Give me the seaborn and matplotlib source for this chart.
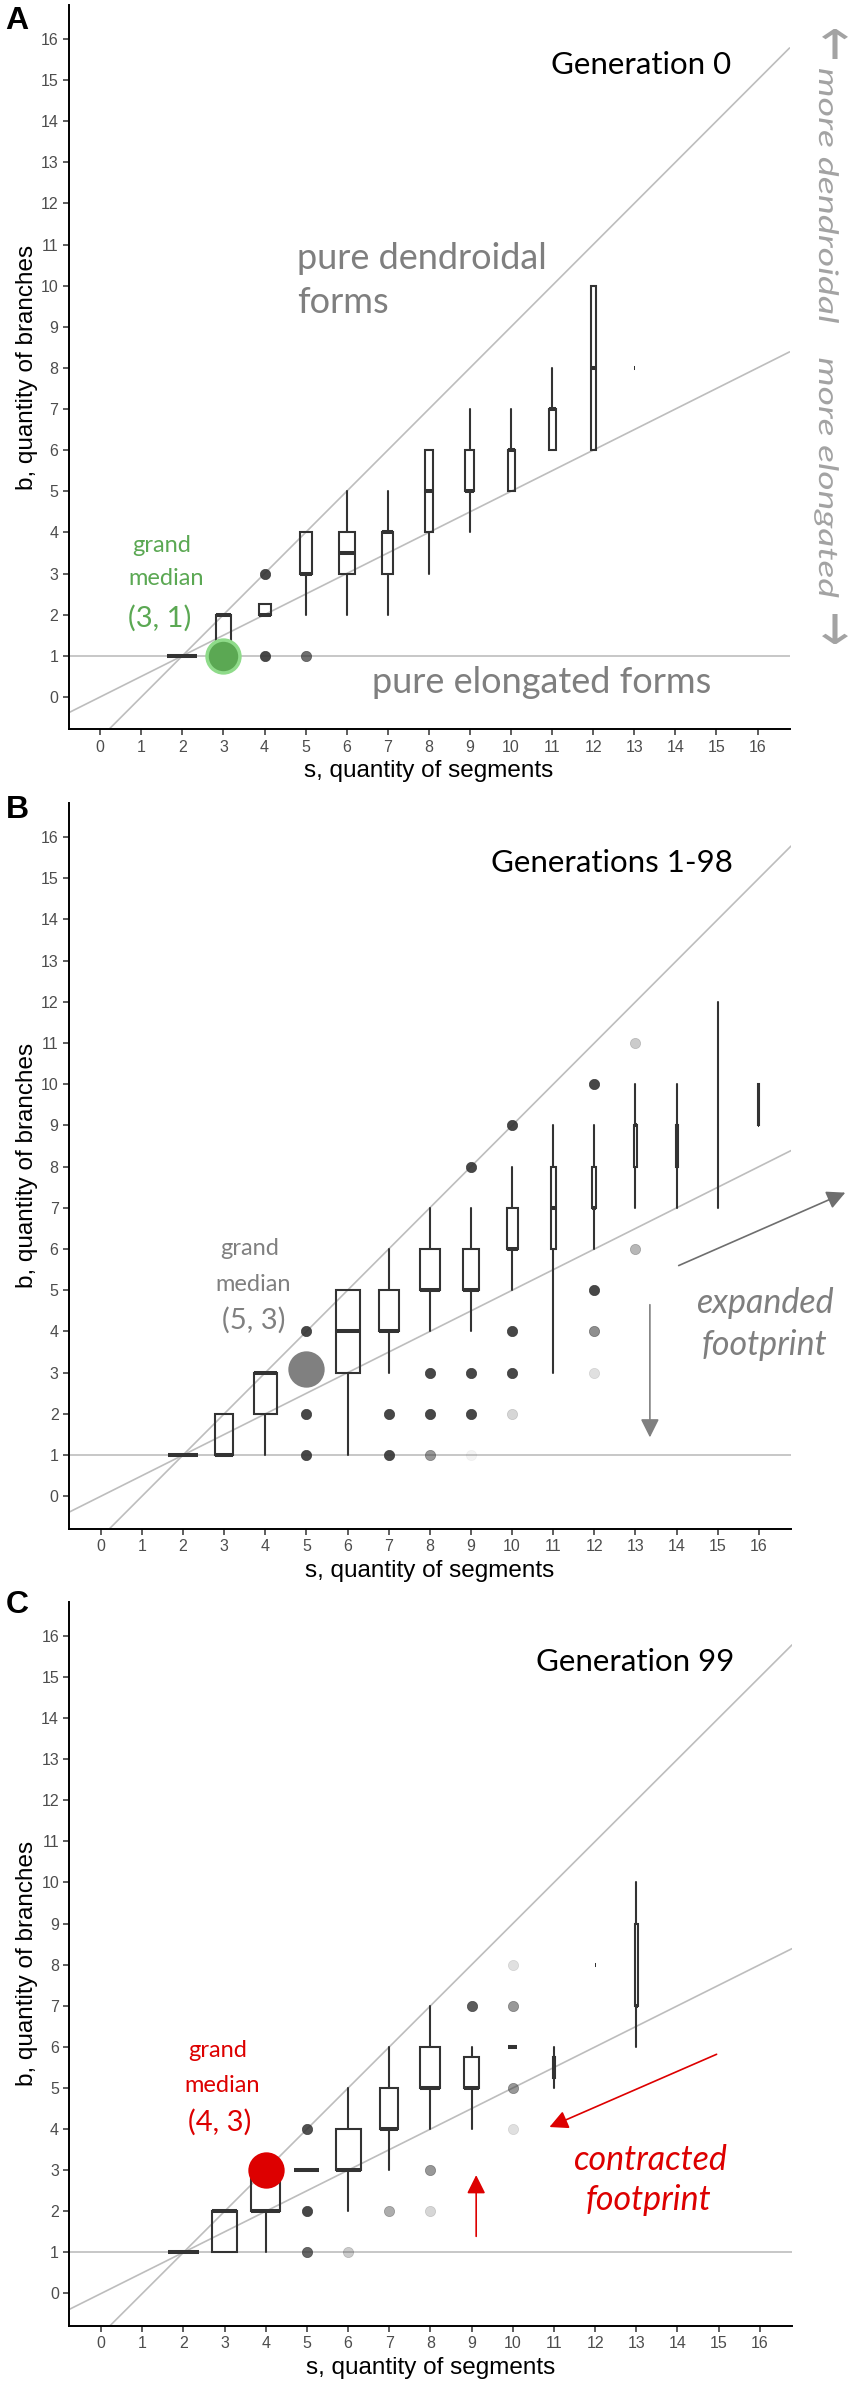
import numpy as np
import pandas as pd
import matplotlib
matplotlib.use("Agg")
import matplotlib.pyplot as plt
import seaborn as sns
from matplotlib.textpath import TextPath
from matplotlib.patches import PathPatch
from matplotlib.font_manager import FontProperties
from matplotlib.transforms import Affine2D

# ---- data ----
# panel A, generation 0: box stats per s
a_s = [2, 3, 4, 5, 6, 7, 8, 9, 10, 11, 12, 13]
a_lo = [1, 1, 2, 2, 2, 2, 3, 4, 5, 6, 6, 8]
a_q1 = [1, 1, 2, 3, 3, 3, 4, 5, 5, 6, 6, 8]
a_med = [1, 2, 2, 3, 3.5, 4, 5, 5, 6, 7, 8, 8]
a_q3 = [1, 2, 2.25, 4, 4, 4, 6, 6, 6, 7, 10, 8]
a_hi = [1, 2, 2.25, 4, 5, 5, 6, 7, 7, 8, 10, 8]
a_width = [30, 15, 12, 12, 16, 11, 8, 9, 7, 7, 5, 1]
a_out_s = [4, 4, 5]
a_out_b = [3, 1, 1]
a_out_alpha = [0.9, 0.9, 0.7]

# panel B, generations 1-98
b_s = [2, 3, 4, 6, 7, 8, 9, 10, 11, 12, 13, 14, 15, 16]
b_lo = [1, 1, 1, 1, 3, 4, 4, 5, 3, 6, 7, 7, 7, 9]
b_q1 = [1, 1, 2, 3, 4, 5, 5, 6, 6, 7, 8, 8, 9, 9]
b_med = [1, 1, 3, 4, 4, 5, 5, 6, 7, 7, 9, 9, 9, 9]
b_q3 = [1, 2, 3, 5, 5, 6, 6, 7, 8, 8, 9, 9, 9, 10]
b_hi = [1, 2, 3, 5, 6, 7, 7, 8, 9, 9, 10, 10, 12, 10]
b_width = [30, 18, 23, 24, 20, 20, 16, 11, 5, 4, 3, 2, 1, 1]
b_out_s = [5, 5, 5, 7, 7, 8, 8, 8, 9, 9, 9, 9, 10, 10, 10, 10, 12, 12, 12, 12, 13, 13]
b_out_b = [4, 2, 1, 2, 1, 3, 2, 1, 8, 3, 2, 1, 9, 4, 3, 2, 10, 5, 4, 3, 11, 6]
b_out_alpha = [0.9, 0.9, 0.9, 0.9, 0.9, 0.9, 0.9, 0.5, 0.9, 0.9, 0.9, 0.05,
               0.9, 0.9, 0.9, 0.2, 0.9, 0.9, 0.55, 0.15, 0.25, 0.35]

# panel C, generation 99
c_s = [2, 3, 4, 5, 6, 7, 8, 9, 10, 11, 12, 13]
c_lo = [1, 1, 1, 3, 2, 3, 4, 4, 6, 5, 8, 6]
c_q1 = [1, 1, 2, 3, 3, 4, 5, 5, 6, 5.25, 8, 7]
c_med = [1, 2, 2, 3, 3, 4, 5, 5, 6, 5.5, 8, 7]
c_q3 = [1, 2, 3, 3, 4, 5, 6, 5.75, 6, 5.75, 8, 9]
c_hi = [1, 2, 3, 3, 5, 6, 7, 6, 6, 6, 8, 10]
c_width = [31, 25, 29, 25, 25, 18, 20, 15, 9, 2.5, 1, 3]
c_out_s = [5, 5, 5, 6, 7, 8, 8, 9, 10, 10, 10, 10]
c_out_b = [4, 2, 1, 1, 2, 3, 2, 7, 8, 7, 5, 4]
c_out_alpha = [0.85, 0.9, 0.75, 0.25, 0.4, 0.5, 0.2, 0.8, 0.15, 0.5, 0.5, 0.15]

# grand medians (dot position, label)
gm_x = [3, 5, 4]
gm_y = [1, 3.1, 3]
gm_label = ["(3, 1)", "(5, 3)", "(4, 3)"]
gm_color = ["#5ba853", "#808080", "#dd0000"]
gm_edge = ["#8fdb8a", "#808080", "#dd0000"]

titles = ["Generation 0", "Generations 1-98", "Generation 99"]
letters = ["A", "B", "C"]
ticks = list(range(0, 17))

# reference lines b = slope*s + intercept
ref_slope = [1, 0.5, 0]
ref_icpt = [-1, 0, 1]

PX = 41.1  # pixels per data unit
H = 2390

sns.set_theme(style="ticks")
plt.rcParams["font.family"] = ["Liberation Sans", "DejaVu Sans"]
ANN = ["Lato", "DejaVu Sans"]

fig = plt.figure(figsize=(8.52, 23.9), dpi=100)
rects = [[0.0805, 0.6948, 0.8462, 0.3032],
         [0.0810, 0.3603, 0.8474, 0.3038],
         [0.0815, 0.0268, 0.8480, 0.3030]]
letter_y = [1 - 21 / H, 1 - 810 / H, 1 - 1605 / H]

panels = [
    (a_s, a_lo, a_q1, a_med, a_q3, a_hi, a_width, a_out_s, a_out_b, a_out_alpha),
    (b_s, b_lo, b_q1, b_med, b_q3, b_hi, b_width, b_out_s, b_out_b, b_out_alpha),
    (c_s, c_lo, c_q1, c_med, c_q3, c_hi, c_width, c_out_s, c_out_b, c_out_alpha),
]

box_col = "#333333"
axes = []
for i, (s, lo, q1, med, q3, hi, w, os_, ob, oa) in enumerate(panels):
    ax = fig.add_axes(rects[i])
    axes.append(ax)

    for m, c in zip(ref_slope, ref_icpt):
        ax.axline((0, c), slope=m, color="#bdbdbd", lw=1.2, zorder=1)

    stats = [dict(med=md, q1=a, q3=b, whislo=l, whishi=h, fliers=[])
             for l, a, md, b, h in zip(lo, q1, med, q3, hi)]
    ax.bxp(stats, positions=s, widths=np.array(w) / PX, showcaps=False,
           showfliers=False, patch_artist=True, manage_ticks=False,
           boxprops=dict(facecolor="none", edgecolor=box_col, lw=1.5),
           whiskerprops=dict(color=box_col, lw=1.5),
           medianprops=dict(color=box_col, lw=2.9, solid_capstyle="butt"),
           zorder=3)

    out = pd.DataFrame({"s": os_, "b": ob, "alpha": oa})
    for a, grp in out.groupby("alpha"):
        sns.scatterplot(data=grp, x="s", y="b", color=box_col, alpha=a, s=55,
                        edgecolor=box_col, linewidth=0.5, ax=ax, zorder=4,
                        legend=False)

    gm = pd.DataFrame({"s": [gm_x[i]], "b": [gm_y[i]]})
    sns.scatterplot(data=gm, x="s", y="b", color=gm_color[i], s=560,
                    edgecolor=gm_edge[i], linewidth=2.5, ax=ax, zorder=5,
                    legend=False)

    ax.set_xlim(-0.77, 16.78)
    ax.set_ylim(-0.79, 16.83)
    ax.set_xticks(ticks)
    ax.set_yticks(ticks)
    ax.tick_params(axis="both", labelsize=11.5, colors="#4d4d4d", length=4.5,
                   width=1.1, pad=3)
    ax.tick_params(axis="both", color="#333333")
    for sp in ["top", "right"]:
        ax.spines[sp].set_visible(False)
    for sp in ["left", "bottom"]:
        ax.spines[sp].set_linewidth(1.4)
        ax.spines[sp].set_color("black")
    ax.set_xlabel("s, quantity of segments", fontsize=17.5, color="black", labelpad=4)
    ax.set_ylabel("b, quantity of branches", fontsize=17.5, color="black", labelpad=2)

    ax.text(15.37, 15.37, titles[i], ha="right", va="center", fontsize=22.5,
            family=ANN, color="black")
    fig.text(17 / 852, letter_y[i], letters[i], ha="center", va="center",
             fontsize=23, fontweight="bold", color="black")


def side_text(txt, prop, size, x_base, y_mid, length, thick=None, color="#a3a3a3"):
    # text read top-to-bottom, stretched along its reading direction
    tp = TextPath((0, 0), txt, size=size, prop=prop)
    bb = tp.get_extents()
    sx = length / bb.width
    if thick is None:
        sy, y0 = 1.0, 0.0
    else:
        sy, y0 = thick / bb.height, bb.y0 + bb.height / 2
    tr = (Affine2D().translate(-(bb.x0 + bb.width / 2), -y0)
          .scale(sx, sy).rotate_deg(-90).translate(x_base, H - y_mid))
    fig.add_artist(PathPatch(tp, transform=tr, facecolor=color, lw=0))


ital = FontProperties(family="Lato", style="italic")
arrow_font = FontProperties(family="DejaVu Sans")
side_text("more dendroidal", ital, 27, 819, 196, 254)
side_text("more elongated", ital, 27, 819, 478, 239)
side_text("\u2190", arrow_font, 27, 835, 44, 30, thick=26)
side_text("\u2192", arrow_font, 27, 835, 629, 30, thick=26)

# panel A annotations
ax = axes[0]
ax.text(4.79, 10.67, "pure dendroidal", ha="left", va="center", fontsize=26,
        family=ANN, color="#7f7f7f")
ax.text(4.79, 9.6, "forms", ha="left", va="center", fontsize=26,
        family=ANN, color="#7f7f7f")
ax.text(6.61, 0.36, "pure elongated forms", ha="left", va="center", fontsize=26,
        family=ANN, color="#7f7f7f")
ax.text(1.5, 3.69, "grand", ha="center", va="center", fontsize=17, family=ANN,
        color="#5ba853")
ax.text(1.6, 2.89, "median", ha="center", va="center", fontsize=17, family=ANN,
        color="#5ba853")
ax.text(1.45, 1.92, gm_label[0], ha="center", va="center", fontsize=21,
        family=ANN, color="#5ba853")

# panel B annotations
ax = axes[1]
ax.text(3.61, 6.01, "grand", ha="center", va="center", fontsize=17, family=ANN,
        color="#808080")
ax.text(3.71, 5.14, "median", ha="center", va="center", fontsize=17, family=ANN,
        color="#808080")
ax.text(3.71, 4.27, gm_label[1], ha="center", va="center", fontsize=21,
        family=ANN, color="#808080")
ax.text(16.14, 4.68, "expanded", ha="center", va="center", fontsize=24.5,
        style="italic", family=ANN, color="#7f7f7f", clip_on=False)
ax.text(16.14, 3.68, "footprint", ha="center", va="center", fontsize=24.5,
        style="italic", family=ANN, color="#7f7f7f", clip_on=False)
ax.annotate("", xy=(18.1, 7.37), xytext=(14.05, 5.6), annotation_clip=False,
            arrowprops=dict(arrowstyle="-|>", color="#6e6e6e", lw=1.2,
                            mutation_scale=28, shrinkA=0, shrinkB=0))
ax.annotate("", xy=(13.35, 1.43), xytext=(13.35, 4.65), annotation_clip=False,
            arrowprops=dict(arrowstyle="-|>", color="#808080", lw=1.2,
                            mutation_scale=28, shrinkA=0, shrinkB=0))

# panel C annotations
ax = axes[2]
ax.text(2.83, 5.91, "grand", ha="center", va="center", fontsize=17, family=ANN,
        color="#dd0000")
ax.text(2.93, 5.06, "median", ha="center", va="center", fontsize=17, family=ANN,
        color="#dd0000")
ax.text(2.88, 4.17, gm_label[2], ha="center", va="center", fontsize=21,
        family=ANN, color="#dd0000")
ax.text(13.34, 3.25, "contracted", ha="center", va="center", fontsize=24.5,
        style="italic", family=ANN, color="#dd0000")
ax.text(13.3, 2.28, "footprint", ha="center", va="center", fontsize=24.5,
        style="italic", family=ANN, color="#dd0000")
ax.annotate("", xy=(10.89, 4.05), xytext=(14.95, 5.82), annotation_clip=False,
            arrowprops=dict(arrowstyle="-|>", color="#dd0000", lw=1.2,
                            mutation_scale=28, shrinkA=0, shrinkB=0))
ax.annotate("", xy=(9.11, 2.88), xytext=(9.11, 1.39), annotation_clip=False,
            arrowprops=dict(arrowstyle="-|>", color="#dd0000", lw=1.2,
                            mutation_scale=28, shrinkA=0, shrinkB=0))

fig.savefig("out.png", dpi=100)
